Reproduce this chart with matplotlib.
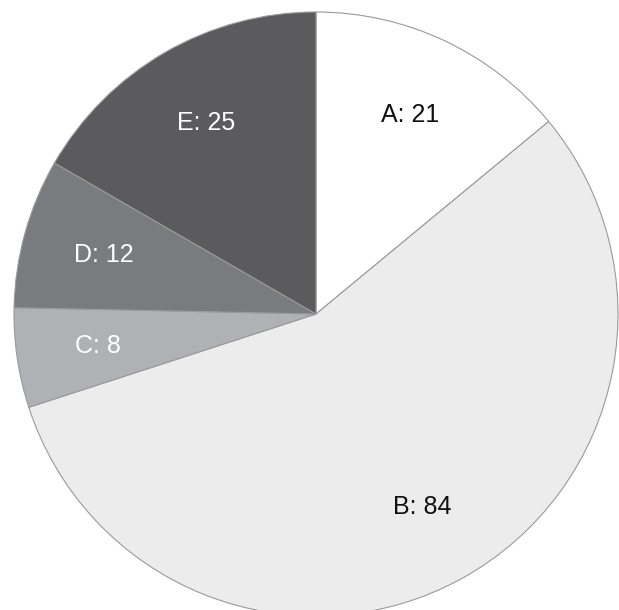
import matplotlib
matplotlib.use("Agg")
import matplotlib.pyplot as plt

categories = ["A", "B", "C", "D", "E"]
values = [21, 84, 8, 12, 25]
colors = ["#ffffff", "#ececec", "#b0b1b4", "#7a7b7f", "#5b5b5e"]
text_colors = ["#111111", "#111111", "#ffffff", "#ffffff", "#ffffff"]

W, H = 619, 610
fig = plt.figure(figsize=(W / 100, H / 100), dpi=100)
ax = fig.add_axes([0, 0, 1, 1])

labels = [f"{c}: {v}" for c, v in zip(categories, values)]
wedges, texts = ax.pie(
    values, labels=labels, colors=colors,
    startangle=90, counterclock=False,
    radius=302, center=(316, H - 314),
    labeldistance=0.73,
    wedgeprops=dict(edgecolor="#9a9a9a", linewidth=0.8),
    textprops=dict(fontsize=18, family="Liberation Sans"),
)
for t, tc in zip(texts, text_colors):
    t.set_color(tc)
    t.set_ha("center")
    t.set_va("center")

ax.set_xlim(0, W)
ax.set_ylim(0, H)
ax.set_aspect("equal")
ax.axis("off")

fig.savefig("out.png", dpi=100)
